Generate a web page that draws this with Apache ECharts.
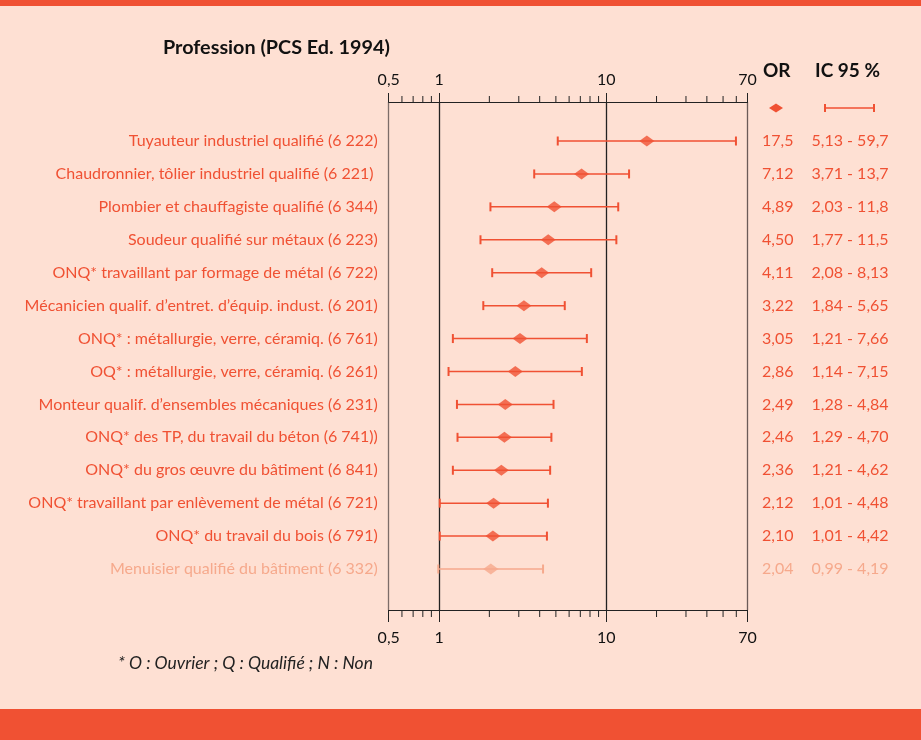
<!DOCTYPE html>
<html><head><meta charset="utf-8">
<script src="https://cdn.jsdelivr.net/npm/echarts@6/dist/echarts.min.js"></script>
<style>html,body{margin:0;padding:0;background:#FEE0D3;}#c{width:921px;height:740px;}</style>
</head><body><div id="c"></div>
<script>
const professions = [
  "Tuyauteur industriel qualifié (6 222)",
  "Chaudronnier, tôlier industriel qualifié (6 221) ",
  "Plombier et chauffagiste qualifié (6 344)",
  "Soudeur qualifié sur métaux (6 223)",
  "ONQ* travaillant par formage de métal (6 722)",
  "Mécanicien qualif. d\u2019entret. d\u2019équip. indust. (6 201)",
  "ONQ* : métallurgie, verre, céramiq. (6 761)",
  "OQ* : métallurgie, verre, céramiq. (6 261)",
  "Monteur qualif. d\u2019ensembles mécaniques (6 231)",
  "ONQ* des TP, du travail du béton (6 741))",
  "ONQ* du gros œuvre du bâtiment (6 841)",
  "ONQ* travaillant par enlèvement de métal (6 721)",
  "ONQ* du travail du bois (6 791)",
  "Menuisier qualifié du bâtiment (6 332)"
];
const oddsRatio = [17.5, 7.12, 4.89, 4.50, 4.11, 3.22, 3.05, 2.86, 2.49, 2.46, 2.36, 2.12, 2.10, 2.04];
const ciLow  = [5.13, 3.71, 2.03, 1.77, 2.08, 1.84, 1.21, 1.14, 1.28, 1.29, 1.21, 1.01, 1.01, 0.99];
const ciHigh = [59.7, 13.7, 11.8, 11.5, 8.13, 5.65, 7.66, 7.15, 4.84, 4.70, 4.62, 4.48, 4.42, 4.19];
const majorTicks = [0.5, 1, 10, 70];
const minorTicks = [0.6, 0.7, 0.8, 0.9, 2, 3, 4, 5, 6, 7, 8, 9, 20, 30, 40, 50, 60];

const RED = '#F05133';
const LIGHT = '#F6A98C';
const FONT = 'Lato, "Open Sans", sans-serif';
const nRows = professions.length;
const rowColor = i => (i === nRows - 1 ? LIGHT : RED);
const fmt = v => (v < 1 ? v.toFixed(2) : v.toPrecision(3)).replace('.', ',');

const chart = echarts.init(document.getElementById('c'));

const rows = professions.map((p, i) => [oddsRatio[i], i, ciLow[i], ciHigh[i], p]);

const option = {
  backgroundColor: '#FEE0D3',
  animation: false,
  grid: { left: 388.7, right: 921 - 747.5, top: 102, bottom: 740 - 610, containLabel: false },
  xAxis: [
    {
      type: 'log', logBase: 10, min: 0.5, max: 70, position: 'top',
      axisLine: { show: true, onZero: false, lineStyle: { color: '#222', width: 1 } },
      axisTick: { show: true, length: 9, lineStyle: { color: '#222', width: 1 } },
      axisLabel: { show: true, margin: 14, color: '#111', fontSize: 16, fontFamily: FONT,
        formatter: v => String(v).replace('.', ',') },
      splitLine: { show: true, lineStyle: { color: ['#7d6d69', '#222', '#222', '#6b5b58'], width: 1.3 } },
      minorTick: { show: false }, minorSplitLine: { show: false }
    },
    {
      type: 'log', logBase: 10, min: 0.5, max: 70, position: 'bottom',
      axisLine: { show: true, onZero: false, lineStyle: { color: '#222', width: 1 } },
      axisTick: { show: true, length: 12, lineStyle: { color: '#222', width: 1 } },
      axisLabel: { show: true, margin: 20, color: '#111', fontSize: 16, fontFamily: FONT,
        formatter: v => String(v).replace('.', ',') },
      splitLine: { show: false }
    }
  ],
  yAxis: {
    type: 'value', inverse: true, min: -1.185, max: 14.245, show: false
  },
  graphic: [
    { type: 'rect', shape: { x: 0, y: 0, width: 921, height: 6 }, style: { fill: RED } },
    { type: 'rect', shape: { x: 0, y: 709, width: 921, height: 31 }, style: { fill: RED } },
    { type: 'text', left: 163, top: 38, style: { text: 'Profession (PCS Ed. 1994)', font: 'bold 19.8px ' + FONT, fill: '#111' } },
    { type: 'text', left: 763, top: 61, style: { text: 'OR', font: 'bold 19px ' + FONT, fill: '#111' } },
    { type: 'text', left: 815, top: 61, style: { text: 'IC 95 %', font: 'bold 19px ' + FONT, fill: '#111' } },
    { type: 'polygon', shape: { points: [[769, 108], [776, 103.5], [783, 108], [776, 112.5]] }, style: { fill: RED } },
    { type: 'line', shape: { x1: 825, y1: 108, x2: 874, y2: 108 }, style: { stroke: RED, lineWidth: 1.5 } },
    { type: 'line', shape: { x1: 825, y1: 104, x2: 825, y2: 112 }, style: { stroke: RED, lineWidth: 2 } },
    { type: 'line', shape: { x1: 874, y1: 104, x2: 874, y2: 112 }, style: { stroke: RED, lineWidth: 2 } },
    { type: 'text', left: 118, top: 654, style: { text: '* O : Ouvrier ; Q : Qualifié ; N : Non', font: 'italic 17.5px ' + FONT, fill: '#222' } }
  ],
  series: [
    {
      type: 'custom', name: 'minor', xAxisIndex: 0, clip: false, silent: true,
      data: minorTicks.map(v => [v, 0]),
      encode: { x: 0, y: 1 },
      renderItem: (params, api) => {
        const x = api.coord([api.value(0), 0])[0];
        const cs = params.coordSys;
        const top = cs.y, bot = cs.y + cs.height;
        return { type: 'group', children: [
          { type: 'line', shape: { x1: x, y1: top - 6, x2: x, y2: top }, style: { stroke: '#222', lineWidth: 1 } },
          { type: 'line', shape: { x1: x, y1: bot, x2: x, y2: bot + 7 }, style: { stroke: '#222', lineWidth: 1 } }
        ] };
      }
    },
    {
      type: 'custom', name: 'ci', xAxisIndex: 0, clip: false, silent: true,
      data: rows, encode: { x: [2, 3], y: 1 },
      renderItem: (params, api) => {
        const i = api.value(1);
        const c = rowColor(i);
        const p1 = api.coord([api.value(2), i]);
        const p2 = api.coord([api.value(3), i]);
        return { type: 'group', children: [
          { type: 'line', shape: { x1: p1[0], y1: p1[1], x2: p2[0], y2: p2[1] }, style: { stroke: c, lineWidth: 1.5 } },
          { type: 'line', shape: { x1: p1[0], y1: p1[1] - 4.5, x2: p1[0], y2: p1[1] + 4.5 }, style: { stroke: c, lineWidth: 2 } },
          { type: 'line', shape: { x1: p2[0], y1: p2[1] - 4.5, x2: p2[0], y2: p2[1] + 4.5 }, style: { stroke: c, lineWidth: 2 } }
        ] };
      }
    },
    {
      type: 'scatter', name: 'OR', xAxisIndex: 0, symbol: 'diamond', symbolSize: [15, 11],
      data: rows.map(r => ({ value: [r[0], r[1]], itemStyle: { color: rowColor(r[1]) } })),
      silent: true
    },
    {
      type: 'custom', name: 'texts', xAxisIndex: 0, clip: false, silent: true,
      data: rows, encode: { x: 0, y: 1 },
      renderItem: (params, api) => {
        const i = params.dataIndex;
        const c = rowColor(i);
        const left = api.coord([0.5, i]);
        const right = api.coord([70, i]);
        const font = '16px ' + FONT;
        return { type: 'group', children: [
          { type: 'text', x: left[0] - 11, y: left[1], style: { text: professions[i], font: font, fill: c, align: 'right', verticalAlign: 'middle' } },
          { type: 'text', x: right[0] + 14.5, y: right[1], style: { text: fmt(oddsRatio[i]), font: font, fill: c, align: 'left', verticalAlign: 'middle' } },
          { type: 'text', x: right[0] + 64, y: right[1], style: { text: fmt(ciLow[i]) + ' - ' + fmt(ciHigh[i]), font: font, fill: c, align: 'left', verticalAlign: 'middle' } }
        ] };
      }
    }
  ]
};
chart.setOption(option);
</script>
</body></html>
